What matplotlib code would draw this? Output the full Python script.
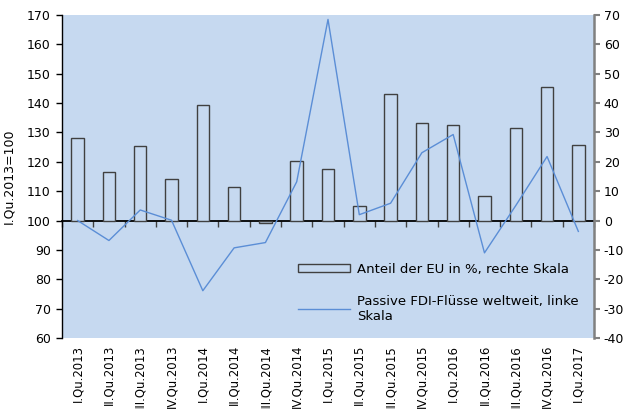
import numpy as np
import matplotlib.pyplot as plt

quarters = ["I.Qu.2013", "II.Qu.2013", "III.Qu.2013", "IV.Qu.2013",
            "I.Qu.2014", "II.Qu.2014", "III.Qu.2014", "IV.Qu.2014",
            "I.Qu.2015", "II.Qu.2015", "III.Qu.2015", "IV.Qu.2015",
            "I.Qu.2016", "II.Qu.2016", "III.Qu.2016", "IV.Qu.2016",
            "I.Qu.2017"]
# Anteil der EU in % (rechte Skala)
eu_share = [28.1, 16.6, 25.4, 14.0, 39.3, 11.3, -0.8, 20.2, 17.6,
            4.9, 43.0, 33.2, 32.5, 8.4, 31.6, 45.4, 25.8]
# Passive FDI-Fluesse weltweit, I.Qu.2013=100 (linke Skala)
fdi_flows = [100.0, 93.2, 103.6, 100.1, 76.1, 90.7, 92.5, 113.2, 168.5,
             102.0, 105.9, 123.1, 129.3, 89.0, 105.1, 121.8, 96.3]

label_bar = "Anteil der EU in %, rechte Skala"
label_line = "Passive FDI-Flüsse weltweit, linke\nSkala"

plt.rcParams['font.family'] = ['DejaVu Sans']
plt.rcParams['font.size'] = 9
plt.rcParams['axes.unicode_minus'] = False

bg = '#c6d9f0'
x = np.arange(len(quarters))

fig = plt.figure(figsize=(6.25, 4.09), dpi=100)
ax = fig.add_axes([0.0992, 0.1736, 0.8512, 0.7897])
ax.set_facecolor(bg)

# bars on the right scale
bars = ax.bar(x, eu_share, width=0.4, facecolor=bg, edgecolor='#404040',
              linewidth=1, zorder=2)
ax.set_ylim(-40, 70)
ax.set_xlim(-0.5, len(quarters) - 0.5)
ax.set_yticks(range(-40, 71, 10))
for s in ['left', 'top', 'bottom']:
    ax.spines[s].set_visible(False)
ax.spines['right'].set_color('#808080')
ax.spines['right'].set_linewidth(1.8)
ax.set_xticks(x, quarters, rotation=90)
ax.tick_params(axis='x', length=0, pad=5, labelsize=8.4)

# zero line with category ticks
zero = ax.secondary_xaxis(40 / 110)
zero.set_xticks(np.arange(-0.5, len(quarters), 1), [''] * (len(quarters) + 1))
zero.tick_params(direction='out', length=4, width=1, color='#404040')
zero.spines['bottom'].set_color('black')
zero.spines['bottom'].set_linewidth(1.3)

# line on the left scale
ax2 = ax.twinx()
line, = ax2.plot(x, fdi_flows, color='#5b8ed6', linewidth=1)
ax2.set_ylim(60, 170)
ax2.set_yticks(range(60, 171, 10))
ax2.yaxis.tick_left()
ax2.yaxis.set_label_position('left')
ax2.tick_params(axis='y', direction='out', length=4, width=1, pad=4)
for s in ['right', 'top', 'bottom']:
    ax2.spines[s].set_visible(False)
ax2.spines['left'].set_linewidth(1)
ax2.set_ylabel('I.Qu.2013=100')
ax2.yaxis.set_label_coords(-0.088, 0.5)

# twinx moved the host ticks to the left, put them back
ax.yaxis.tick_right()
ax.tick_params(axis='y', direction='out', length=4, width=1.5,
               color='#808080', pad=3)

fig.legend([bars, line], [label_bar, label_line], loc='upper left',
           bbox_to_anchor=(0.477, 0.358), frameon=False, borderpad=0,
           borderaxespad=0, handlelength=3.9, handleheight=0.55,
           handletextpad=0.55, labelspacing=1.45, fontsize=9.5)

fig.savefig('out.png', dpi=100)
